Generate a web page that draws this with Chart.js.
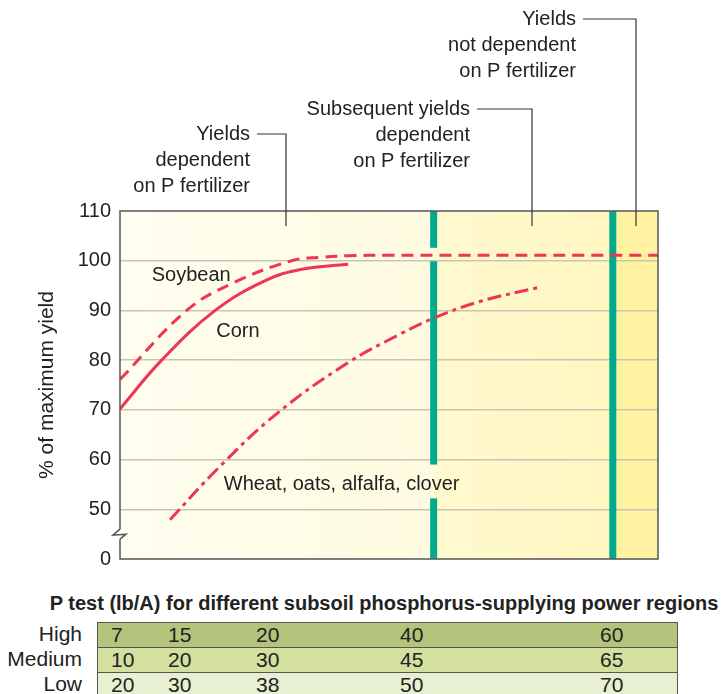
<!DOCTYPE html>
<html>
<head>
<meta charset="utf-8">
<script src="https://cdn.jsdelivr.net/npm/chart.js@4.4.0/dist/chart.umd.min.js"></script>
<style>
  body { margin: 0; background: #fff; }
  #wrap { position: relative; width: 726px; height: 694px; overflow: hidden; font-family: "Liberation Sans", Arial, sans-serif; color: #222; }
  #myChart { position: absolute; left: 0; top: 0; width: 726px; height: 580px; }
  #ptitle { position: absolute; left: 0; width: 768px; top: 592px; text-align: center; font-family: "Liberation Sans Narrow", "Liberation Sans", sans-serif; font-weight: bold; font-size: 20px; white-space: nowrap; }
  #ptable { position: absolute; left: 97px; top: 622px; width: 581px; border: 1.5px solid #555; box-sizing: border-box; }
  .prow { position: relative; height: 25px; border-bottom: 1.5px solid #555; box-sizing: border-box; }
  .prow span { position: absolute; top: 1px; font-family: "Liberation Sans Narrow", "Liberation Sans", sans-serif; font-size: 21px; line-height: 22px; }
  .plabel { position: absolute; right: 644px; font-family: "Liberation Sans Narrow", "Liberation Sans", sans-serif; font-size: 21px; line-height: 22px; text-align: right; }
</style>
</head>
<body>
<div id="wrap">
  <canvas id="myChart" width="726" height="580"></canvas>
  <div id="ptitle"></div>
  <div id="plabels"></div>
  <div id="ptable"></div>
</div>
<script>
// x is position along the P-test axis, 0..100 (left edge to right edge of the plot)
const soybeanX = [0, 12.4, 20.8, 31.9, 37.5, 42.4, 50, 100];
const soybeanY = [76.1, 90, 95.4, 100, 100.7, 101.0, 101.1, 101.1];
const cornX = [0, 7.75, 17.7, 27.0, 33.8, 42.4];
const cornY = [70.2, 80, 90, 96.0, 98.3, 99.3];
const wheatX = [9.3, 18.0, 29.1, 42.1, 52.0, 58.2, 66.9, 78.1];
const wheatY = [47.9, 58.0, 69.2, 79.3, 85.2, 88.4, 91.8, 94.7];

const regionEdges = [58.3, 91.6];   // green dividing bars
const yTicks = [40, 50, 60, 70, 80, 90, 100, 110];
const yTickLabels = ['0', '50', '60', '70', '80', '90', '100', '110'];

const tableTitle = 'P test (lb/A) for different subsoil phosphorus-supplying power regions';
const rowNames = ['High', 'Medium', 'Low'];
const pHigh = [7, 15, 20, 40, 60];
const pMedium = [10, 20, 30, 45, 65];
const pLow = [20, 30, 38, 50, 70];

const red = '#ee3553';
const green = '#00ab8b';
const font = '"Liberation Sans", Arial, sans-serif';

function pts(xs, ys) { return xs.map((x, i) => ({x: x, y: ys[i]})); }

// table under the chart
document.getElementById('ptitle').textContent = tableTitle;
const colLeft = [13, 70, 158, 302, 502];
const rowBg = ['#b3c47c', '#d3e0a0', '#e7f0d0'];
const tbl = document.getElementById('ptable');
const lbls = document.getElementById('plabels');
[pHigh, pMedium, pLow].forEach((row, r) => {
  const d = document.createElement('div');
  d.className = 'prow';
  d.style.background = rowBg[r];
  row.forEach((v, c) => {
    const s = document.createElement('span');
    s.textContent = v;
    s.style.left = colLeft[c] + 'px';
    d.appendChild(s);
  });
  tbl.appendChild(d);
  const l = document.createElement('div');
  l.className = 'plabel';
  l.textContent = rowNames[r];
  l.style.top = (623 + r * 25) + 'px';
  lbls.appendChild(l);
});

const decor = {
  id: 'decor',
  beforeDraw(chart) {
    const ctx = chart.ctx, a = chart.chartArea, xs = chart.scales.x;
    const b1 = xs.getPixelForValue(regionEdges[0]), b2 = xs.getPixelForValue(regionEdges[1]);
    ctx.save();
    let g = ctx.createLinearGradient(a.left, 0, b1, 0);
    g.addColorStop(0, '#fffef0');
    g.addColorStop(1, '#fffbe0');
    ctx.fillStyle = g;
    ctx.fillRect(a.left, a.top, b1 - a.left, a.bottom - a.top);
    g = ctx.createLinearGradient(b1, 0, b2, 0);
    g.addColorStop(0, '#fff9cf');
    g.addColorStop(1, '#fff6c0');
    ctx.fillStyle = g;
    ctx.fillRect(b1, a.top, b2 - b1, a.bottom - a.top);
    ctx.fillStyle = '#fff3a2';
    ctx.fillRect(b2, a.top, a.right - b2, a.bottom - a.top);
    ctx.restore();
  },
  beforeDatasetsDraw(chart) {
    const ctx = chart.ctx, a = chart.chartArea, xs = chart.scales.x, ys = chart.scales.y;
    ctx.save();
    ctx.fillStyle = green;
    const b1 = xs.getPixelForValue(regionEdges[0]), b2 = xs.getPixelForValue(regionEdges[1]);
    // first bar has gaps where the soybean line and the wheat label cross it
    const segs = [[110, 102.6], [99.9, 59.0], [52.2, 40]];
    segs.forEach(s => {
      const t = ys.getPixelForValue(s[0]), bt = ys.getPixelForValue(s[1]);
      ctx.fillRect(b1 - 3.5, t, 7, bt - t);
    });
    ctx.fillRect(b2 - 3.5, a.top, 7, a.bottom - a.top);
    ctx.restore();
  },
  afterDraw(chart) {
    const ctx = chart.ctx, a = chart.chartArea, xs = chart.scales.x, ys = chart.scales.y;
    const brk = ys.getPixelForValue(45);
    ctx.save();
    // frame with axis break
    ctx.strokeStyle = '#555';
    ctx.lineWidth = 1.5;
    ctx.beginPath();
    ctx.moveTo(a.left, brk - 5);
    ctx.lineTo(a.left, a.top);
    ctx.lineTo(a.right, a.top);
    ctx.lineTo(a.right, a.bottom);
    ctx.lineTo(a.left, a.bottom);
    ctx.lineTo(a.left, brk + 5);
    ctx.stroke();
    ctx.beginPath();
    ctx.moveTo(a.left, brk - 5);
    ctx.lineTo(a.left - 7, brk + 1);
    ctx.lineTo(a.left + 6, brk);
    ctx.lineTo(a.left, brk + 5);
    ctx.stroke();
    // labels inside plot
    ctx.fillStyle = '#222';
    ctx.font = '20px ' + font;
    ctx.textBaseline = 'middle';
    ctx.textAlign = 'left';
    ctx.fillText('Soybean', xs.getPixelForValue(5.9), ys.getPixelForValue(97.1));
    ctx.fillText('Corn', xs.getPixelForValue(17.9), ys.getPixelForValue(85.8));
    ctx.fillText('Wheat, oats, alfalfa, clover', xs.getPixelForValue(19.3), ys.getPixelForValue(55.0));
    // region captions above the plot
    ctx.textAlign = 'right';
    const notes = [
      {lines: ['Yields', 'dependent', 'on P fertilizer'], right: 250, top: 134, lx: 286},
      {lines: ['Subsequent yields', 'dependent', 'on P fertilizer'], right: 470, top: 109, lx: 532},
      {lines: ['Yields', 'not dependent', 'on P fertilizer'], right: 576, top: 19, lx: 636}
    ];
    ctx.strokeStyle = '#333';
    ctx.lineWidth = 1.2;
    notes.forEach(n => {
      n.lines.forEach((t, i) => ctx.fillText(t, n.right, n.top + i * 26));
      ctx.beginPath();
      ctx.moveTo(n.right + 7, n.top);
      ctx.lineTo(n.lx, n.top);
      ctx.lineTo(n.lx, a.top + 15);
      ctx.stroke();
    });
    ctx.restore();
  }
};

new Chart(document.getElementById('myChart'), {
  type: 'line',
  data: {
    datasets: [
      {label: 'Soybean', data: pts(soybeanX, soybeanY), borderColor: red, borderWidth: 3, borderDash: [12, 7], pointRadius: 0, tension: 0.4, fill: false},
      {label: 'Corn', data: pts(cornX, cornY), borderColor: red, borderWidth: 3, pointRadius: 0, tension: 0.4, fill: false},
      {label: 'Wheat, oats, alfalfa, clover', data: pts(wheatX, wheatY), borderColor: red, borderWidth: 3, borderDash: [14, 5, 4, 5], pointRadius: 0, tension: 0.4, fill: false}
    ]
  },
  options: {
    responsive: false,
    animation: false,
    devicePixelRatio: 1,
    layout: {padding: {left: 31, top: 211, right: 68, bottom: 16}},
    plugins: {legend: {display: false}, tooltip: {enabled: false}},
    scales: {
      x: {type: 'linear', min: 0, max: 100, display: false},
      y: {
        type: 'linear', min: 40, max: 110,
        afterFit(s) { s.width = 89; },
        afterBuildTicks(s) { s.ticks = yTicks.map(v => ({value: v})); },
        ticks: {
          padding: 9, color: '#222', font: {family: font, size: 20},
          callback: (v) => yTickLabels[yTicks.indexOf(v)]
        },
        grid: {drawTicks: false, lineWidth: 1.5, color: (c) => (c.tick.value === 40 || c.tick.value === 110) ? 'rgba(0,0,0,0)' : '#c9c5b4'},
        border: {display: false},
        title: {display: true, text: '% of maximum yield', color: '#222', font: {family: font, size: 21}}
      }
    }
  },
  plugins: [decor]
});
</script>
</body>
</html>
